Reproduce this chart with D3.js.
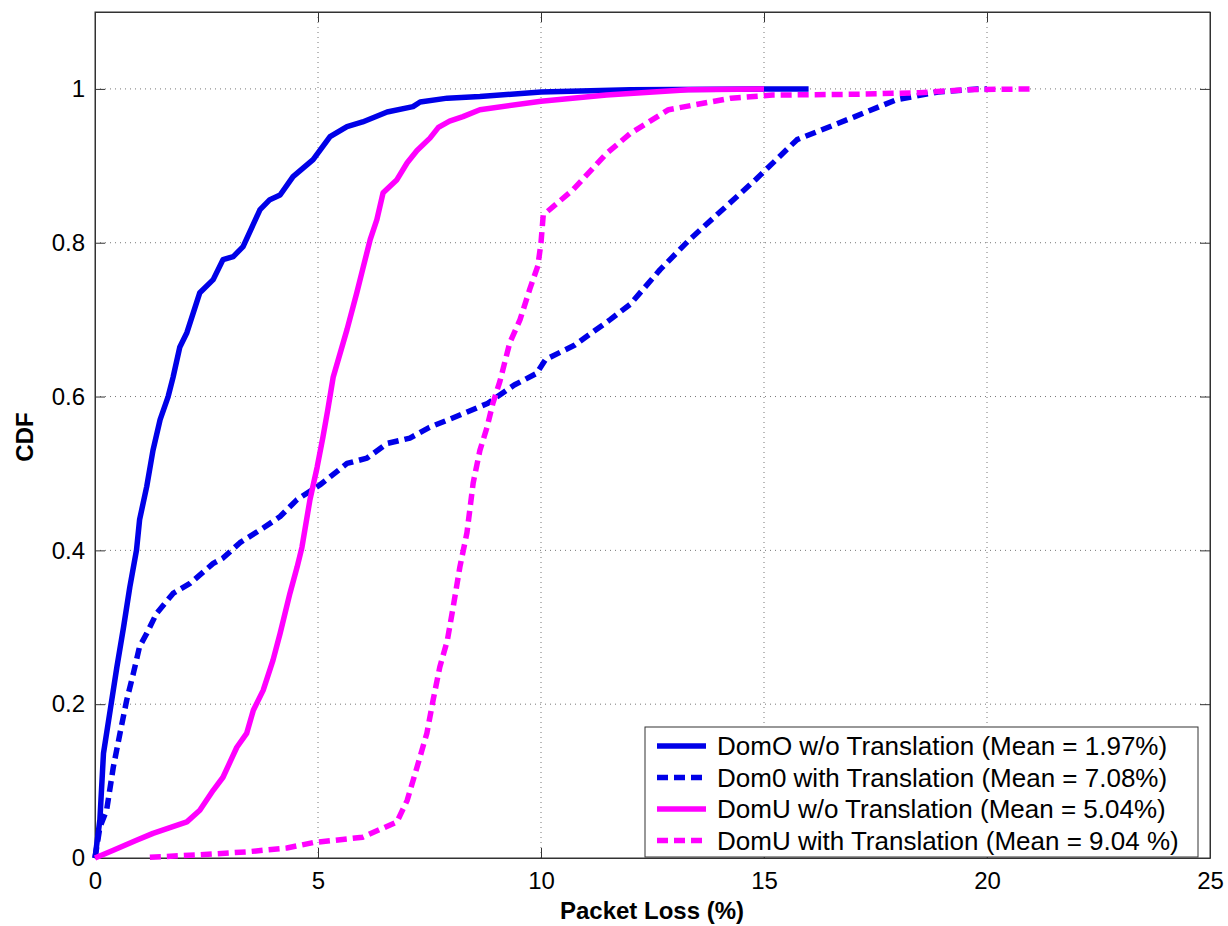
<!DOCTYPE html>
<html>
<head>
<meta charset="utf-8">
<script src="https://cdn.jsdelivr.net/npm/d3@7"></script>
<style>
  body { margin: 0; background: #fff; }
  svg { font-family: "Liberation Sans", Arial, sans-serif; }
</style>
</head>
<body>
<div id="chart"></div>
<script>
// CDF of packet loss

const xTicks = [0, 5, 10, 15, 20, 25];
const yTicks = [0, 0.2, 0.4, 0.6, 0.8, 1];

const domOWithout = [[0,0],[0.11,0.05],[0.19,0.136],[0.34,0.192],[0.49,0.248],[0.64,0.30],[0.78,0.352],[0.93,0.40],[1.0,0.44],[1.16,0.483],[1.3,0.53],[1.46,0.57],[1.64,0.6],[1.75,0.625],[1.9,0.664],[2.06,0.683],[2.35,0.735],[2.65,0.752],[2.87,0.778],[3.1,0.782],[3.32,0.795],[3.7,0.843],[3.92,0.856],[4.15,0.862],[4.44,0.886],[4.89,0.908],[5.27,0.938],[5.65,0.951],[6.0,0.957],[6.55,0.97],[7.13,0.977],[7.29,0.983],[7.9,0.988],[8.63,0.99],[10,0.996],[12,0.999],[16,1.0]];

const dom0With = [[0,0],[0.11,0.04],[0.26,0.062],[0.41,0.118],[0.56,0.162],[0.71,0.205],[0.86,0.24],[1.0,0.275],[1.16,0.292],[1.38,0.318],[1.75,0.344],[2.13,0.357],[2.65,0.383],[2.87,0.39],[3.25,0.41],[3.77,0.429],[4.15,0.444],[4.53,0.466],[5.04,0.485],[5.65,0.513],[6.1,0.52],[6.55,0.539],[7.06,0.546],[7.5,0.56],[8.1,0.574],[8.8,0.591],[9.4,0.615],[9.9,0.63],[10.1,0.648],[10.76,0.667],[11.55,0.70],[12.0,0.72],[12.67,0.765],[13.33,0.804],[14.81,0.882],[15.74,0.934],[17.04,0.964],[17.97,0.986],[18.9,0.996],[19.8,1.0],[20,1.0]];

const domUWithout = [[0,0],[0.41,0.01],[0.93,0.023],[1.3,0.032],[2.06,0.047],[2.35,0.062],[2.65,0.088],[2.87,0.105],[3.18,0.144],[3.4,0.162],[3.55,0.192],[3.77,0.218],[3.99,0.257],[4.15,0.292],[4.37,0.344],[4.53,0.378],[4.64,0.404],[4.82,0.466],[4.98,0.508],[5.11,0.547],[5.22,0.583],[5.34,0.625],[5.65,0.687],[5.87,0.735],[6.0,0.765],[6.17,0.804],[6.32,0.83],[6.46,0.865],[6.77,0.882],[7.0,0.904],[7.22,0.92],[7.51,0.936],[7.7,0.95],[7.95,0.958],[8.25,0.964],[8.63,0.973],[10,0.984],[11.47,0.992],[13.3,0.999],[15,1.0]];

const domUWith = [[1.23,0.001],[2.29,0.004],[3.4,0.008],[4.3,0.013],[4.89,0.02],[6.0,0.027],[6.77,0.047],[7.0,0.075],[7.22,0.118],[7.44,0.162],[7.58,0.205],[7.73,0.248],[7.9,0.283],[8.03,0.326],[8.18,0.378],[8.34,0.423],[8.48,0.488],[8.63,0.53],[8.79,0.56],[8.92,0.591],[9.08,0.62],[9.3,0.67],[9.53,0.70],[9.75,0.74],[9.93,0.77],[10.0,0.80],[10.05,0.836],[10.72,0.869],[11.47,0.916],[12.0,0.942],[12.86,0.973],[14.26,0.988],[15.19,0.992],[17,0.993],[18.5,0.995],[19.5,0.999],[21,1.0]];

const seriesNames = [
    'DomO w/o Translation (Mean = 1.97%)',
    'Dom0 with Translation (Mean = 7.08%)',
    'DomU w/o Translation (Mean = 5.04%)',
    'DomU with Translation (Mean = 9.04 %)'
];
const seriesData = [domOWithout, dom0With, domUWithout, domUWith];
const seriesColors = ['#0000e8', '#0000e8', '#ff00ff', '#ff00ff'];
const seriesDashed = [false, true, false, true];

const width = 1228, height = 926;
const margin = { left: 95, top: 12, right: 18, bottom: 68 };
const innerW = width - margin.left - margin.right;
const innerH = height - margin.top - margin.bottom;

const svg = d3.select('#chart').append('svg')
    .attr('width', width)
    .attr('height', height);

const g = svg.append('g')
    .attr('transform', `translate(${margin.left},${margin.top})`);

const x = d3.scaleLinear().domain([0, 25]).range([0, innerW]);
const y = d3.scaleLinear().domain([0, 1.1]).range([innerH, 0]);

// grid
g.append('g').selectAll('line')
    .data(xTicks.slice(1, -1))
    .join('line')
    .attr('x1', d => x(d)).attr('x2', d => x(d))
    .attr('y1', 0).attr('y2', innerH)
    .attr('stroke', '#777').attr('stroke-dasharray', '1,4');

g.append('g').selectAll('line')
    .data(yTicks.slice(1))
    .join('line')
    .attr('x1', 0).attr('x2', innerW)
    .attr('y1', d => y(d)).attr('y2', d => y(d))
    .attr('stroke', '#777').attr('stroke-dasharray', '1,4');

// axes, ticks pointing inward
g.append('g')
    .attr('transform', `translate(0,${innerH})`)
    .call(d3.axisBottom(x).tickValues(xTicks).tickSize(-10).tickPadding(14).tickSizeOuter(0));
g.append('g')
    .call(d3.axisLeft(y).tickValues(yTicks).tickSize(-10).tickPadding(10).tickSizeOuter(0)
        .tickFormat(d => d3.format('~g')(d)));
g.append('g')
    .call(d3.axisTop(x).tickValues(xTicks).tickSize(-10).tickFormat('').tickSizeOuter(0));
g.append('g')
    .attr('transform', `translate(${innerW},0)`)
    .call(d3.axisRight(y).tickValues(yTicks).tickSize(-10).tickFormat('').tickSizeOuter(0));

g.selectAll('.domain, .tick line').attr('stroke', '#333');
g.selectAll('.tick text').attr('font-size', 24).attr('fill', '#000')
    .attr('font-family', '"Liberation Sans", Arial, sans-serif');

// frame
g.append('rect')
    .attr('width', innerW).attr('height', innerH)
    .attr('fill', 'none').attr('stroke', '#333');

// curves
const line = d3.line()
    .x(d => x(d[0]))
    .y(d => y(d[1]));

seriesData.forEach((data, i) => {
    g.append('path')
        .datum(data)
        .attr('d', line)
        .attr('fill', 'none')
        .attr('stroke', seriesColors[i])
        .attr('stroke-width', 5.5)
        .attr('stroke-linejoin', 'round')
        .attr('stroke-dasharray', seriesDashed[i] ? '11,6' : null);
});

// axis labels
svg.append('text')
    .attr('x', 652)
    .attr('y', 919)
    .attr('text-anchor', 'middle')
    .attr('font-weight', 'bold')
    .attr('font-size', 24)
    .text('Packet Loss (%)');

svg.append('text')
    .attr('transform', 'translate(33,437) rotate(-90)')
    .attr('text-anchor', 'middle')
    .attr('font-weight', 'bold')
    .attr('font-size', 24)
    .text('CDF');

// legend
const legend = svg.append('g').attr('transform', 'translate(645,727)');
legend.append('rect')
    .attr('width', 553).attr('height', 130)
    .attr('fill', '#fff').attr('stroke', '#333');

seriesNames.forEach((name, i) => {
    const ry = 19 + i * 31.5;
    legend.append('line')
        .attr('x1', 12).attr('x2', 61)
        .attr('y1', ry).attr('y2', ry)
        .attr('stroke', seriesColors[i])
        .attr('stroke-width', 5.5)
        .attr('stroke-dasharray', seriesDashed[i] ? '11,6' : null);
    legend.append('text')
        .attr('x', 72).attr('y', ry + 9)
        .attr('font-size', 26)
        .text(name);
});
</script>
</body>
</html>
